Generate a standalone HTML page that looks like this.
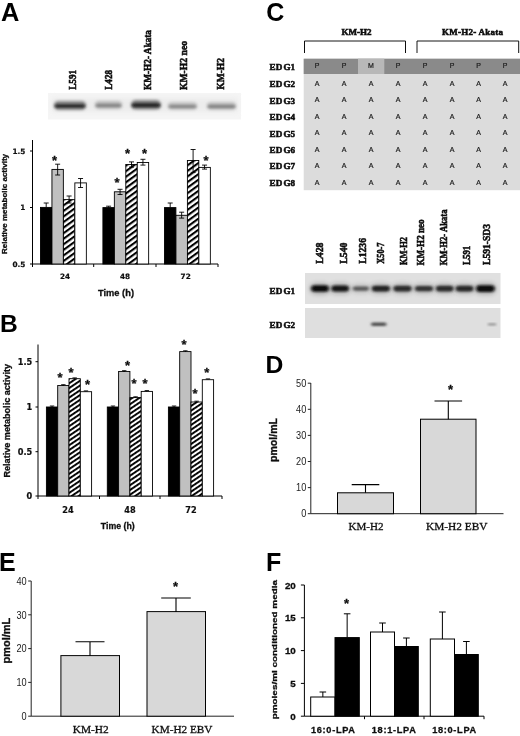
<!DOCTYPE html>
<html><head><meta charset="utf-8"><title>Figure</title>
<style>
html,body{margin:0;padding:0;background:#fff;}
body{width:520px;height:736px;overflow:hidden;}
svg{display:block}
.pl{font-family:"Liberation Sans",sans-serif;font-weight:bold;fill:#000}
.sb{font-family:"Liberation Serif",serif;font-weight:bold;fill:#111;stroke:#111;stroke-width:.55px}
.db{font-family:"DejaVu Sans","Liberation Sans",sans-serif;font-weight:bold;fill:#111;stroke:#111;stroke-width:.2px}
.ax{font-family:"Liberation Sans",sans-serif;font-weight:bold;fill:#111;stroke:#111;stroke-width:.3px}
.sr{font-family:"Liberation Serif",serif;fill:#111;stroke:#111;stroke-width:.3px}
.ab{font-family:"Liberation Sans",sans-serif;font-weight:bold;fill:#111}
.ar{font-family:"Liberation Sans",sans-serif;fill:#222}
.tl{font-family:"Liberation Sans",sans-serif;fill:#1a1a1a;stroke:#1a1a1a;stroke-width:.2px}
</style></head><body>
<svg width="520" height="736" viewBox="0 0 520 736">
<defs>
<pattern id="h" patternUnits="userSpaceOnUse" width="4.5" height="4.5" patternTransform="rotate(-36)">
<rect width="4.5" height="4.5" fill="#fff"/><rect width="4.5" height="2.1" fill="#000"/>
</pattern>
<pattern id="h2" patternUnits="userSpaceOnUse" width="3.95" height="3.95" patternTransform="rotate(-34)">
<rect width="3.95" height="3.95" fill="#fff"/><rect width="3.95" height="1.9" fill="#000"/>
</pattern>
<filter id="b1" x="-20%" y="-80%" width="140%" height="260%"><feGaussianBlur stdDeviation="1.8 1.5"/></filter>
<filter id="b3" x="-20%" y="-80%" width="140%" height="260%"><feGaussianBlur stdDeviation="1.5 1.0"/></filter>
<filter id="b2" x="-20%" y="-80%" width="140%" height="260%"><feGaussianBlur stdDeviation="2.5"/></filter>
<filter id="soft"><feGaussianBlur stdDeviation="0.35"/></filter>
</defs>
<rect width="520" height="736" fill="#fff"/>
<g filter="url(#soft)">

<text class="pl" x="1.1" y="20.8" font-size="25.4">A</text>
<text class="sb" font-size="10.5" transform="translate(75.5,89.7) rotate(-90)" textLength="19.7" lengthAdjust="spacingAndGlyphs">L591</text>
<text class="sb" font-size="10.5" transform="translate(112.1,89.7) rotate(-90)" textLength="19.7" lengthAdjust="spacingAndGlyphs">L428</text>
<text class="sb" font-size="10.5" transform="translate(150.5,90) rotate(-90)" textLength="60.0" lengthAdjust="spacingAndGlyphs">KM-H2- Akata</text>
<text class="sb" font-size="10.5" transform="translate(186.9,90) rotate(-90)" textLength="49.0" lengthAdjust="spacingAndGlyphs">KM-H2 neo</text>
<text class="sb" font-size="10.5" transform="translate(223.8,89.7) rotate(-90)" textLength="31.7" lengthAdjust="spacingAndGlyphs">KM-H2</text>
<rect x="48" y="93" width="193" height="26.5" fill="#f5f5f5"/>
<rect x="52" y="98" width="186" height="14" fill="#ececec" filter="url(#b2)"/>
<rect x="54" y="101.0" width="32" height="9" rx="4.5" fill="#858585" opacity="1" filter="url(#b1)"/>
<rect x="55" y="104.2" width="30" height="3.6" rx="1.8" fill="#2c2c2c" opacity="1" filter="url(#b3)"/>
<rect x="95" y="101.0" width="27" height="8" rx="4.0" fill="#b8b8b8" opacity="1" filter="url(#b1)"/>
<rect x="96" y="104.0" width="25" height="3" rx="1.5" fill="#858585" opacity="1" filter="url(#b3)"/>
<rect x="131" y="100.05" width="30" height="9.5" rx="4.75" fill="#808080" opacity="1" filter="url(#b1)"/>
<rect x="132" y="103.3" width="28" height="4" rx="2.0" fill="#262626" opacity="1" filter="url(#b3)"/>
<rect x="168" y="102.25" width="29" height="7.5" rx="3.75" fill="#bcbcbc" opacity="1" filter="url(#b1)"/>
<rect x="169" y="105.0" width="27" height="3" rx="1.5" fill="#8a8a8a" opacity="1" filter="url(#b3)"/>
<rect x="207" y="102.25" width="29" height="7.5" rx="3.75" fill="#b8b8b8" opacity="1" filter="url(#b1)"/>
<rect x="208" y="105.0" width="27" height="3" rx="1.5" fill="#858585" opacity="1" filter="url(#b3)"/>
<path d="M32.5 140V264H218" stroke="#000" stroke-width="1" fill="none"/>
<path d="M30.0 151H32.5" stroke="#000" stroke-width="1"/>
<path d="M30.0 207.5H32.5" stroke="#000" stroke-width="1"/>
<path d="M30.0 264H32.5" stroke="#000" stroke-width="1"/>
<path d="M32.5 264V267" stroke="#000" stroke-width="1"/>
<path d="M93.7 264V267" stroke="#000" stroke-width="1"/>
<path d="M156 264V267" stroke="#000" stroke-width="1"/>
<path d="M218 264V267" stroke="#000" stroke-width="1"/>
<text class="db" font-size="7.3" text-anchor="end" x="25.4" y="153.8">1.5</text>
<text class="db" font-size="7.3" text-anchor="end" x="25.4" y="210.3">1</text>
<text class="db" font-size="7.3" text-anchor="end" x="25.4" y="266.8">0.5</text>
<text class="ax" font-size="7.5" transform="translate(7.3,254) rotate(-90)" textLength="100.0" lengthAdjust="spacingAndGlyphs">Relative metabolic activity</text>
<rect x="40.5" y="207.4" width="11.5" height="56.6" fill="#000" stroke="#000" stroke-width="0.9"/>
<rect x="51.95" y="169.4" width="11.4" height="94.6" fill="#c0c0c0" stroke="#000" stroke-width="0.9"/>
<rect x="63.4" y="199.6" width="11.4" height="64.4" fill="url(#h)" stroke="#000" stroke-width="0.9"/>
<rect x="74.85" y="182.9" width="11.5" height="81.1" fill="#fff" stroke="#000" stroke-width="0.9"/>
<rect x="102.9" y="207.6" width="11.5" height="56.4" fill="#000" stroke="#000" stroke-width="0.9"/>
<rect x="114.35000000000001" y="191.8" width="11.5" height="72.2" fill="#c0c0c0" stroke="#000" stroke-width="0.9"/>
<rect x="125.80000000000001" y="164.5" width="11.4" height="99.5" fill="url(#h)" stroke="#000" stroke-width="0.9"/>
<rect x="137.25" y="162.5" width="11.4" height="101.5" fill="#fff" stroke="#000" stroke-width="0.9"/>
<rect x="164.5" y="207.6" width="11.4" height="56.4" fill="#000" stroke="#000" stroke-width="0.9"/>
<rect x="175.95" y="215.3" width="11.5" height="48.7" fill="#c0c0c0" stroke="#000" stroke-width="0.9"/>
<rect x="187.4" y="160.5" width="11.4" height="103.5" fill="url(#h)" stroke="#000" stroke-width="0.9"/>
<rect x="198.85" y="167.4" width="11.5" height="96.6" fill="#fff" stroke="#000" stroke-width="0.9"/>
<path d="M46.2 203V207.4M43.7 203H48.7" stroke="#000" stroke-width="0.9" fill="none"/>
<path d="M57.650000000000006 164.2V175M55.150000000000006 164.2H60.150000000000006M55.150000000000006 175H60.150000000000006" stroke="#000" stroke-width="0.9" fill="none"/>
<path d="M69.1 196V203M66.6 196H71.6M66.6 203H71.6" stroke="#000" stroke-width="0.9" fill="none"/>
<path d="M80.55 178.5V187.5M78.05 178.5H83.05M78.05 187.5H83.05" stroke="#000" stroke-width="0.9" fill="none"/>
<path d="M108.60000000000001 206.2V207.6M106.10000000000001 206.2H111.10000000000001" stroke="#000" stroke-width="0.9" fill="none"/>
<path d="M120.05000000000001 189.3V194.5M117.55000000000001 189.3H122.55000000000001M117.55000000000001 194.5H122.55000000000001" stroke="#000" stroke-width="0.9" fill="none"/>
<path d="M131.5 161.9V167.1M129.0 161.9H134.0M129.0 167.1H134.0" stroke="#000" stroke-width="0.9" fill="none"/>
<path d="M142.95 159.3V165.1M140.45 159.3H145.45M140.45 165.1H145.45" stroke="#000" stroke-width="0.9" fill="none"/>
<path d="M170.2 203V207.6M167.7 203H172.7" stroke="#000" stroke-width="0.9" fill="none"/>
<path d="M181.64999999999998 212.2V218.1M179.14999999999998 212.2H184.14999999999998M179.14999999999998 218.1H184.14999999999998" stroke="#000" stroke-width="0.9" fill="none"/>
<path d="M193.1 149.5V172.3M190.6 149.5H195.6M190.6 172.3H195.6" stroke="#000" stroke-width="0.9" fill="none"/>
<path d="M204.54999999999998 165.1V169.1M202.04999999999998 165.1H207.04999999999998M202.04999999999998 169.1H207.04999999999998" stroke="#000" stroke-width="0.9" fill="none"/>
<text class="ax" font-size="13" text-anchor="middle" x="54.5" y="165.2">*</text>
<text class="ax" font-size="13" text-anchor="middle" x="117" y="186.8">*</text>
<text class="ax" font-size="13" text-anchor="middle" x="127.6" y="158.2">*</text>
<text class="ax" font-size="13" text-anchor="middle" x="144.6" y="158.2">*</text>
<text class="ax" font-size="13" text-anchor="middle" x="206" y="164.9">*</text>
<text class="db" font-size="7.3" text-anchor="middle" x="65" y="279">24</text>
<text class="db" font-size="7.3" text-anchor="middle" x="125" y="279">48</text>
<text class="db" font-size="7.3" text-anchor="middle" x="185.7" y="279">72</text>
<text class="ax" font-size="9" text-anchor="middle" x="116" y="296" textLength="36" lengthAdjust="spacingAndGlyphs">Time (h)</text>
<text class="pl" x="-0.1" y="331.9" font-size="24.6">B</text>
<path d="M38 344.5V496H222" stroke="#000" stroke-width="1" fill="none"/>
<path d="M35.5 361.7H38" stroke="#000" stroke-width="1"/>
<path d="M35.5 407H38" stroke="#000" stroke-width="1"/>
<path d="M35.5 451.7H38" stroke="#000" stroke-width="1"/>
<path d="M35.5 496H38" stroke="#000" stroke-width="1"/>
<path d="M38 496V499" stroke="#000" stroke-width="1"/>
<path d="M99.5 496V499" stroke="#000" stroke-width="1"/>
<path d="M160 496V499" stroke="#000" stroke-width="1"/>
<path d="M222 496V499" stroke="#000" stroke-width="1"/>
<text class="db" font-size="8.2" text-anchor="end" x="32.3" y="364.8">1.5</text>
<text class="db" font-size="8.2" text-anchor="end" x="32.3" y="410.1">1</text>
<text class="db" font-size="8.2" text-anchor="end" x="32.3" y="454.8">0.5</text>
<text class="db" font-size="8.2" text-anchor="end" x="32.3" y="499.1">0</text>
<text class="ax" font-size="8.5" transform="translate(10.3,477.5) rotate(-90)" textLength="113.5" lengthAdjust="spacingAndGlyphs">Relative metabolic activity</text>
<rect x="46.4" y="407" width="11.3" height="89.0" fill="#000" stroke="#000" stroke-width="0.9"/>
<rect x="57.7" y="385.5" width="11.3" height="110.5" fill="#c0c0c0" stroke="#000" stroke-width="0.9"/>
<rect x="69.0" y="378.7" width="11.3" height="117.3" fill="url(#h2)" stroke="#000" stroke-width="0.9"/>
<rect x="80.30000000000001" y="391.7" width="11.3" height="104.3" fill="#fff" stroke="#000" stroke-width="0.9"/>
<rect x="107.3" y="407" width="11.3" height="89.0" fill="#000" stroke="#000" stroke-width="0.9"/>
<rect x="118.6" y="371.5" width="11.3" height="124.5" fill="#c0c0c0" stroke="#000" stroke-width="0.9"/>
<rect x="129.9" y="397.6" width="11.3" height="98.4" fill="url(#h2)" stroke="#000" stroke-width="0.9"/>
<rect x="141.2" y="391.4" width="11.3" height="104.6" fill="#fff" stroke="#000" stroke-width="0.9"/>
<rect x="168.4" y="407" width="11.3" height="89.0" fill="#000" stroke="#000" stroke-width="0.9"/>
<rect x="179.70000000000002" y="351.6" width="11.3" height="144.4" fill="#c0c0c0" stroke="#000" stroke-width="0.9"/>
<rect x="191.0" y="402" width="11.3" height="94.0" fill="url(#h2)" stroke="#000" stroke-width="0.9"/>
<rect x="202.3" y="379.7" width="11.3" height="116.3" fill="#fff" stroke="#000" stroke-width="0.9"/>
<path d="M52.05 406V407M49.849999999999994 406H54.25" stroke="#000" stroke-width="0.9" fill="none"/>
<path d="M63.35 384.7V385.5M61.15 384.7H65.55" stroke="#000" stroke-width="0.9" fill="none"/>
<path d="M74.65 377.9V378.7M72.45 377.9H76.85000000000001" stroke="#000" stroke-width="0.9" fill="none"/>
<path d="M85.95000000000002 390.9V391.7M83.75000000000001 390.9H88.15000000000002" stroke="#000" stroke-width="0.9" fill="none"/>
<path d="M112.95 406V407M110.75 406H115.15" stroke="#000" stroke-width="0.9" fill="none"/>
<path d="M124.25 370.7V371.5M122.05 370.7H126.45" stroke="#000" stroke-width="0.9" fill="none"/>
<path d="M135.55 396.8V397.6M133.35000000000002 396.8H137.75" stroke="#000" stroke-width="0.9" fill="none"/>
<path d="M146.85 390.59999999999997V391.4M144.65 390.59999999999997H149.04999999999998" stroke="#000" stroke-width="0.9" fill="none"/>
<path d="M174.05 406V407M171.85000000000002 406H176.25" stroke="#000" stroke-width="0.9" fill="none"/>
<path d="M185.35000000000002 350.8V351.6M183.15000000000003 350.8H187.55" stroke="#000" stroke-width="0.9" fill="none"/>
<path d="M196.65 401.2V402M194.45000000000002 401.2H198.85" stroke="#000" stroke-width="0.9" fill="none"/>
<path d="M207.95000000000002 378.9V379.7M205.75000000000003 378.9H210.15" stroke="#000" stroke-width="0.9" fill="none"/>
<text class="ax" font-size="13" text-anchor="middle" x="60" y="382.2">*</text>
<text class="ax" font-size="13" text-anchor="middle" x="71" y="376.7">*</text>
<text class="ax" font-size="13" text-anchor="middle" x="87.5" y="388.7">*</text>
<text class="ax" font-size="13" text-anchor="middle" x="127.6" y="370.2">*</text>
<text class="ax" font-size="13" text-anchor="middle" x="134" y="387.8">*</text>
<text class="ax" font-size="13" text-anchor="middle" x="145" y="387.8">*</text>
<text class="ax" font-size="13" text-anchor="middle" x="184" y="348.6">*</text>
<text class="ax" font-size="13" text-anchor="middle" x="195" y="398.2">*</text>
<text class="ax" font-size="13" text-anchor="middle" x="206.7" y="377.2">*</text>
<text class="db" font-size="8.2" text-anchor="middle" x="68" y="513.2">24</text>
<text class="db" font-size="8.2" text-anchor="middle" x="130" y="513.2">48</text>
<text class="db" font-size="8.2" text-anchor="middle" x="191" y="513.2">72</text>
<text class="ax" font-size="9" text-anchor="middle" x="117.8" y="528.7" textLength="34" lengthAdjust="spacingAndGlyphs">Time (h)</text>
<text class="pl" x="266.2" y="20.9" font-size="25">C</text>
<text class="sb" font-size="9" text-anchor="middle" x="356.5" y="34.7">KM-H2</text>
<text class="sb" font-size="9" text-anchor="middle" x="472.5" y="34.7" textLength="61" lengthAdjust="spacing">KM-H2- Akata</text>
<path d="M304.5 53V41H405.5V53M417 53V41H518.7V53" stroke="#111" stroke-width="1" fill="none"/>
<rect x="303.7" y="58.7" width="216.3" height="131.5" fill="#dcdcdc"/>
<rect x="303.7" y="58.7" width="216.3" height="15.3" fill="#8a8a8a"/>
<rect x="358" y="58.7" width="26.3" height="15.3" fill="#b8b8b8"/>
<text class="sb" font-size="9.1" x="269.6" y="69.5">ED<tspan dx="1.2">G1</tspan></text>
<text class="tl" font-size="7" text-anchor="middle" x="317" y="68.1">P</text>
<text class="tl" font-size="7" text-anchor="middle" x="344" y="68.1">P</text>
<text class="tl" font-size="7" text-anchor="middle" x="371" y="68.1">M</text>
<text class="tl" font-size="7" text-anchor="middle" x="398" y="68.1">P</text>
<text class="tl" font-size="7" text-anchor="middle" x="425" y="68.1">P</text>
<text class="tl" font-size="7" text-anchor="middle" x="452" y="68.1">P</text>
<text class="tl" font-size="7" text-anchor="middle" x="478.5" y="68.1">P</text>
<text class="tl" font-size="7" text-anchor="middle" x="505" y="68.1">P</text>
<text class="sb" font-size="9.1" x="269.6" y="87.3">ED<tspan dx="1.2">G2</tspan></text>
<text class="tl" font-size="7" text-anchor="middle" x="317" y="86.0">A</text>
<text class="tl" font-size="7" text-anchor="middle" x="344" y="86.0">A</text>
<text class="tl" font-size="7" text-anchor="middle" x="371" y="86.0">A</text>
<text class="tl" font-size="7" text-anchor="middle" x="398" y="86.0">A</text>
<text class="tl" font-size="7" text-anchor="middle" x="425" y="86.0">A</text>
<text class="tl" font-size="7" text-anchor="middle" x="452" y="86.0">A</text>
<text class="tl" font-size="7" text-anchor="middle" x="478.5" y="86.0">A</text>
<text class="tl" font-size="7" text-anchor="middle" x="505" y="86.0">A</text>
<text class="sb" font-size="9.1" x="269.6" y="103.5">ED<tspan dx="1.2">G3</tspan></text>
<text class="tl" font-size="7" text-anchor="middle" x="317" y="102.1">A</text>
<text class="tl" font-size="7" text-anchor="middle" x="344" y="102.1">A</text>
<text class="tl" font-size="7" text-anchor="middle" x="371" y="102.1">A</text>
<text class="tl" font-size="7" text-anchor="middle" x="398" y="102.1">A</text>
<text class="tl" font-size="7" text-anchor="middle" x="425" y="102.1">A</text>
<text class="tl" font-size="7" text-anchor="middle" x="452" y="102.1">A</text>
<text class="tl" font-size="7" text-anchor="middle" x="478.5" y="102.1">A</text>
<text class="tl" font-size="7" text-anchor="middle" x="505" y="102.1">A</text>
<text class="sb" font-size="9.1" x="269.6" y="120.0">ED<tspan dx="1.2">G4</tspan></text>
<text class="tl" font-size="7" text-anchor="middle" x="317" y="118.7">A</text>
<text class="tl" font-size="7" text-anchor="middle" x="344" y="118.7">A</text>
<text class="tl" font-size="7" text-anchor="middle" x="371" y="118.7">A</text>
<text class="tl" font-size="7" text-anchor="middle" x="398" y="118.7">A</text>
<text class="tl" font-size="7" text-anchor="middle" x="425" y="118.7">A</text>
<text class="tl" font-size="7" text-anchor="middle" x="452" y="118.7">A</text>
<text class="tl" font-size="7" text-anchor="middle" x="478.5" y="118.7">A</text>
<text class="tl" font-size="7" text-anchor="middle" x="505" y="118.7">A</text>
<text class="sb" font-size="9.1" x="269.6" y="136.5">ED<tspan dx="1.2">G5</tspan></text>
<text class="tl" font-size="7" text-anchor="middle" x="317" y="135.4">A</text>
<text class="tl" font-size="7" text-anchor="middle" x="344" y="135.4">A</text>
<text class="tl" font-size="7" text-anchor="middle" x="371" y="135.4">A</text>
<text class="tl" font-size="7" text-anchor="middle" x="398" y="135.4">A</text>
<text class="tl" font-size="7" text-anchor="middle" x="425" y="135.4">A</text>
<text class="tl" font-size="7" text-anchor="middle" x="452" y="135.4">A</text>
<text class="tl" font-size="7" text-anchor="middle" x="478.5" y="135.4">A</text>
<text class="tl" font-size="7" text-anchor="middle" x="505" y="135.4">A</text>
<text class="sb" font-size="9.1" x="269.6" y="153.4">ED<tspan dx="1.2">G6</tspan></text>
<text class="tl" font-size="7" text-anchor="middle" x="317" y="151.9">A</text>
<text class="tl" font-size="7" text-anchor="middle" x="344" y="151.9">A</text>
<text class="tl" font-size="7" text-anchor="middle" x="371" y="151.9">A</text>
<text class="tl" font-size="7" text-anchor="middle" x="398" y="151.9">A</text>
<text class="tl" font-size="7" text-anchor="middle" x="425" y="151.9">A</text>
<text class="tl" font-size="7" text-anchor="middle" x="452" y="151.9">A</text>
<text class="tl" font-size="7" text-anchor="middle" x="478.5" y="151.9">A</text>
<text class="tl" font-size="7" text-anchor="middle" x="505" y="151.9">A</text>
<text class="sb" font-size="9.1" x="269.6" y="169.2">ED<tspan dx="1.2">G7</tspan></text>
<text class="tl" font-size="7" text-anchor="middle" x="317" y="168.1">A</text>
<text class="tl" font-size="7" text-anchor="middle" x="344" y="168.1">A</text>
<text class="tl" font-size="7" text-anchor="middle" x="371" y="168.1">A</text>
<text class="tl" font-size="7" text-anchor="middle" x="398" y="168.1">A</text>
<text class="tl" font-size="7" text-anchor="middle" x="425" y="168.1">A</text>
<text class="tl" font-size="7" text-anchor="middle" x="452" y="168.1">A</text>
<text class="tl" font-size="7" text-anchor="middle" x="478.5" y="168.1">A</text>
<text class="tl" font-size="7" text-anchor="middle" x="505" y="168.1">A</text>
<text class="sb" font-size="9.1" x="269.6" y="186.1">ED<tspan dx="1.2">G8</tspan></text>
<text class="tl" font-size="7" text-anchor="middle" x="317" y="184.6">A</text>
<text class="tl" font-size="7" text-anchor="middle" x="344" y="184.6">A</text>
<text class="tl" font-size="7" text-anchor="middle" x="371" y="184.6">A</text>
<text class="tl" font-size="7" text-anchor="middle" x="398" y="184.6">A</text>
<text class="tl" font-size="7" text-anchor="middle" x="425" y="184.6">A</text>
<text class="tl" font-size="7" text-anchor="middle" x="452" y="184.6">A</text>
<text class="tl" font-size="7" text-anchor="middle" x="478.5" y="184.6">A</text>
<text class="tl" font-size="7" text-anchor="middle" x="505" y="184.6">A</text>
<text class="sb" font-size="10" transform="translate(323.3,263.7) rotate(-90)" textLength="21.2" lengthAdjust="spacingAndGlyphs">L428</text>
<text class="sb" font-size="10" transform="translate(347.0,263.7) rotate(-90)" textLength="21.2" lengthAdjust="spacingAndGlyphs">L540</text>
<text class="sb" font-size="10" transform="translate(366.3,263.7) rotate(-90)" textLength="25.7" lengthAdjust="spacingAndGlyphs">L1236</text>
<text class="sb" font-size="10" transform="translate(384.3,263.7) rotate(-90)" textLength="21.2" lengthAdjust="spacingAndGlyphs">X50-7</text>
<text class="sb" font-size="10" transform="translate(407.0,265) rotate(-90)" textLength="28.0" lengthAdjust="spacingAndGlyphs">KM-H2</text>
<text class="sb" font-size="10" transform="translate(423.8,265.5) rotate(-90)" textLength="46.0" lengthAdjust="spacingAndGlyphs">KM-H2 neo</text>
<text class="sb" font-size="10" transform="translate(447.0,265.5) rotate(-90)" textLength="56.0" lengthAdjust="spacingAndGlyphs">KM-H2- Akata</text>
<text class="sb" font-size="10" transform="translate(470.3,265) rotate(-90)" textLength="19.3" lengthAdjust="spacingAndGlyphs">L591</text>
<text class="sb" font-size="10" transform="translate(490.3,265) rotate(-90)" textLength="41.0" lengthAdjust="spacingAndGlyphs">L591-SD3</text>
<rect x="305" y="273" width="195.5" height="31" fill="#e0e0e0"/>
<rect x="305" y="308" width="195.5" height="30" fill="#dfdfdf"/>
<rect x="310.2" y="283.4" width="19.5" height="10.5" rx="5.25" fill="#0a0a0a" opacity="0.28" filter="url(#b2)"/>
<rect x="311.25" y="285.35" width="17.5" height="6.5" rx="3.25" fill="#0a0a0a" opacity="1" filter="url(#b3)"/>
<rect x="330.4" y="283.6" width="19.5" height="10" rx="5.0" fill="#141414" opacity="0.28" filter="url(#b2)"/>
<rect x="331.45" y="285.6" width="17.5" height="6" rx="3.0" fill="#141414" opacity="1" filter="url(#b3)"/>
<rect x="351.8" y="284.5" width="18" height="8.2" rx="4.1" fill="#5a5a5a" opacity="0.28" filter="url(#b2)"/>
<rect x="352.8" y="286.5" width="16.0" height="4.2" rx="2.1" fill="#5a5a5a" opacity="1" filter="url(#b3)"/>
<rect x="370.9" y="283.8" width="20" height="9.6" rx="4.8" fill="#222" opacity="0.28" filter="url(#b2)"/>
<rect x="371.9" y="285.8" width="18.0" height="5.6" rx="2.8" fill="#222" opacity="1" filter="url(#b3)"/>
<rect x="392.5" y="283.8" width="20" height="9.6" rx="4.8" fill="#2c2c2c" opacity="0.28" filter="url(#b2)"/>
<rect x="393.5" y="285.8" width="18.0" height="5.6" rx="2.8" fill="#2c2c2c" opacity="1" filter="url(#b3)"/>
<rect x="414.0" y="283.9" width="20" height="9.4" rx="4.7" fill="#363636" opacity="0.28" filter="url(#b2)"/>
<rect x="415.0" y="285.90000000000003" width="18.0" height="5.4" rx="2.7" fill="#363636" opacity="1" filter="url(#b3)"/>
<rect x="434.9" y="283.8" width="19.5" height="9.6" rx="4.8" fill="#2c2c2c" opacity="0.28" filter="url(#b2)"/>
<rect x="435.95" y="285.8" width="17.5" height="5.6" rx="2.8" fill="#2c2c2c" opacity="1" filter="url(#b3)"/>
<rect x="454.8" y="283.7" width="19.5" height="9.8" rx="4.9" fill="#262626" opacity="0.28" filter="url(#b2)"/>
<rect x="455.75" y="285.70000000000005" width="17.5" height="5.8" rx="2.9" fill="#262626" opacity="1" filter="url(#b3)"/>
<rect x="475.1" y="283.2" width="20.5" height="10.8" rx="5.4" fill="#0c0c0c" opacity="0.28" filter="url(#b2)"/>
<rect x="476.15" y="285.20000000000005" width="18.5" height="6.8" rx="3.4" fill="#0c0c0c" opacity="1" filter="url(#b3)"/>
<rect x="371" y="322.5" width="15.5" height="3.6" rx="1.8" fill="#505050" opacity="1" filter="url(#b3)"/>
<rect x="488" y="323.6" width="8" height="1.6" fill="#777" filter="url(#b3)"/>
<text class="sb" font-size="9.1" x="269.6" y="293.7">ED<tspan dx="1.2">G1</tspan></text>
<text class="sb" font-size="9.1" x="269.6" y="327.7">ED<tspan dx="1.2">G2</tspan></text>
<text class="pl" x="265.5" y="373" font-size="24.7">D</text>
<path d="M310.8 383V513.7H503.5" stroke="#222" stroke-width="1" fill="none"/>
<path d="M307.8 513.7H310.8" stroke="#222" stroke-width="1"/>
<text class="ar" font-size="10.3" text-anchor="end" x="306.3" y="517.4" textLength="5.1" lengthAdjust="spacingAndGlyphs">0</text>
<path d="M307.8 487.6H310.8" stroke="#222" stroke-width="1"/>
<text class="ar" font-size="10.3" text-anchor="end" x="306.3" y="491.3" textLength="10.2" lengthAdjust="spacingAndGlyphs">10</text>
<path d="M307.8 461.5H310.8" stroke="#222" stroke-width="1"/>
<text class="ar" font-size="10.3" text-anchor="end" x="306.3" y="465.2" textLength="10.2" lengthAdjust="spacingAndGlyphs">20</text>
<path d="M307.8 435.4H310.8" stroke="#222" stroke-width="1"/>
<text class="ar" font-size="10.3" text-anchor="end" x="306.3" y="439.1" textLength="10.2" lengthAdjust="spacingAndGlyphs">30</text>
<path d="M307.8 409.3H310.8" stroke="#222" stroke-width="1"/>
<text class="ar" font-size="10.3" text-anchor="end" x="306.3" y="413.0" textLength="10.2" lengthAdjust="spacingAndGlyphs">40</text>
<path d="M307.8 383.2H310.8" stroke="#222" stroke-width="1"/>
<text class="ar" font-size="10.3" text-anchor="end" x="306.3" y="386.9" textLength="10.2" lengthAdjust="spacingAndGlyphs">50</text>
<rect x="337.5" y="492.8" width="56.0" height="20.9" fill="#d8d8d8" stroke="#000" stroke-width="1"/>
<rect x="420.5" y="419.2" width="55.5" height="94.5" fill="#d8d8d8" stroke="#000" stroke-width="1"/>
<path d="M365.5 484.6V492.8M351.7 484.6H379.3" stroke="#000" stroke-width="1.1" fill="none"/>
<path d="M448.3 401V419.2M434.5 401H462.1" stroke="#000" stroke-width="1.1" fill="none"/>
<text class="ax" font-size="13" text-anchor="middle" x="450.5" y="393.9">*</text>
<text class="ax" font-size="10" transform="translate(276.9,462) rotate(-90)" textLength="44.0" lengthAdjust="spacingAndGlyphs">pmol/mL</text>
<text class="sr" font-size="11" text-anchor="middle" x="366" y="530.4" textLength="35" lengthAdjust="spacingAndGlyphs">KM-H2</text>
<text class="sr" font-size="11" text-anchor="middle" x="456.7" y="530.4" textLength="61.5" lengthAdjust="spacingAndGlyphs">KM-H2 EBV</text>
<text class="pl" x="-0.9" y="570.7" font-size="25">E</text>
<path d="M31.2 581V716.2H234" stroke="#222" stroke-width="1" fill="none"/>
<path d="M28.2 716.2H31.2" stroke="#222" stroke-width="1"/>
<text class="ar" font-size="10.3" text-anchor="end" x="26.6" y="719.9" textLength="5.1" lengthAdjust="spacingAndGlyphs">0</text>
<path d="M28.2 682.4H31.2" stroke="#222" stroke-width="1"/>
<text class="ar" font-size="10.3" text-anchor="end" x="26.6" y="686.1" textLength="10.2" lengthAdjust="spacingAndGlyphs">10</text>
<path d="M28.2 648.6H31.2" stroke="#222" stroke-width="1"/>
<text class="ar" font-size="10.3" text-anchor="end" x="26.6" y="652.3" textLength="10.2" lengthAdjust="spacingAndGlyphs">20</text>
<path d="M28.2 614.8H31.2" stroke="#222" stroke-width="1"/>
<text class="ar" font-size="10.3" text-anchor="end" x="26.6" y="618.5" textLength="10.2" lengthAdjust="spacingAndGlyphs">30</text>
<path d="M28.2 581.0H31.2" stroke="#222" stroke-width="1"/>
<text class="ar" font-size="10.3" text-anchor="end" x="26.6" y="584.7" textLength="10.2" lengthAdjust="spacingAndGlyphs">40</text>
<rect x="60.9" y="655.6" width="58.6" height="60.6" fill="#d8d8d8" stroke="#000" stroke-width="1"/>
<rect x="147" y="611.6" width="58.5" height="104.6" fill="#d8d8d8" stroke="#000" stroke-width="1"/>
<path d="M90 641.7V655.6M75.5 641.7H104.5" stroke="#000" stroke-width="1.1" fill="none"/>
<path d="M176 598V611.6M161.2 598H190.8" stroke="#000" stroke-width="1.1" fill="none"/>
<text class="ax" font-size="13" text-anchor="middle" x="175.5" y="590.5">*</text>
<text class="ax" font-size="10" transform="translate(9.6,663.6) rotate(-90)" textLength="45.9" lengthAdjust="spacingAndGlyphs">pmol/mL</text>
<text class="sr" font-size="11" text-anchor="middle" x="90.7" y="733" textLength="36" lengthAdjust="spacingAndGlyphs">KM-H2</text>
<text class="sr" font-size="11" text-anchor="middle" x="182" y="733" textLength="61" lengthAdjust="spacingAndGlyphs">KM-H2 EBV</text>
<text class="pl" x="265.9" y="570.7" font-size="25">F</text>
<path d="M304.4 585V716.2H484" stroke="#000" stroke-width="1" fill="none"/>
<path d="M300.9 716.2H304.4" stroke="#000" stroke-width="1"/>
<text class="ax" font-size="9.8" text-anchor="end" x="295.8" y="719.7">0</text>
<path d="M300.9 683.4H304.4" stroke="#000" stroke-width="1"/>
<text class="ax" font-size="9.8" text-anchor="end" x="295.8" y="686.9">5</text>
<path d="M300.9 650.6H304.4" stroke="#000" stroke-width="1"/>
<text class="ax" font-size="9.8" text-anchor="end" x="295.8" y="654.1">10</text>
<path d="M300.9 617.8H304.4" stroke="#000" stroke-width="1"/>
<text class="ax" font-size="9.8" text-anchor="end" x="295.8" y="621.3">15</text>
<path d="M300.9 585.0H304.4" stroke="#000" stroke-width="1"/>
<text class="ax" font-size="9.8" text-anchor="end" x="295.8" y="588.5">20</text>
<path d="M364.5 716.2V719.2" stroke="#000" stroke-width="1"/>
<path d="M424 716.2V719.2" stroke="#000" stroke-width="1"/>
<path d="M484 716.2V719.2" stroke="#000" stroke-width="1"/>
<rect x="310.7" y="697" width="24.3" height="19.2" fill="#fff" stroke="#000" stroke-width="1"/>
<path d="M322.85 692V697M319.55 692H326.15000000000003" stroke="#000" stroke-width="1" fill="none"/>
<rect x="335" y="637.6" width="24.3" height="78.6" fill="#000" stroke="#000" stroke-width="1"/>
<path d="M347.15 613.8V637.6M343.84999999999997 613.8H350.45" stroke="#000" stroke-width="1" fill="none"/>
<rect x="370.5" y="632" width="24.0" height="84.2" fill="#fff" stroke="#000" stroke-width="1"/>
<path d="M382.5 623V632M379.2 623H385.8" stroke="#000" stroke-width="1" fill="none"/>
<rect x="394.5" y="646.5" width="23.8" height="69.7" fill="#000" stroke="#000" stroke-width="1"/>
<path d="M406.4 638V646.5M403.09999999999997 638H409.7" stroke="#000" stroke-width="1" fill="none"/>
<rect x="430.3" y="639" width="24.2" height="77.2" fill="#fff" stroke="#000" stroke-width="1"/>
<path d="M442.4 612V639M439.09999999999997 612H445.7" stroke="#000" stroke-width="1" fill="none"/>
<rect x="454.5" y="654.5" width="23.8" height="61.7" fill="#000" stroke="#000" stroke-width="1"/>
<path d="M466.4 641.5V654.5M463.09999999999997 641.5H469.7" stroke="#000" stroke-width="1" fill="none"/>
<text class="ax" font-size="13" text-anchor="middle" x="346.5" y="607.8">*</text>
<text class="ax" font-size="8" transform="translate(277.3,719.3) rotate(-90)" textLength="139.3" lengthAdjust="spacingAndGlyphs">pmoles/ml conditioned media</text>
<text class="ax" font-size="9.2" text-anchor="middle" x="333" y="733.3" textLength="44" lengthAdjust="spacing">16:0-LPA</text>
<text class="ax" font-size="9.2" text-anchor="middle" x="393.8" y="733.3" textLength="44" lengthAdjust="spacing">18:1-LPA</text>
<text class="ax" font-size="9.2" text-anchor="middle" x="454.2" y="733.3" textLength="44" lengthAdjust="spacing">18:0-LPA</text>
</g></svg></body></html>
